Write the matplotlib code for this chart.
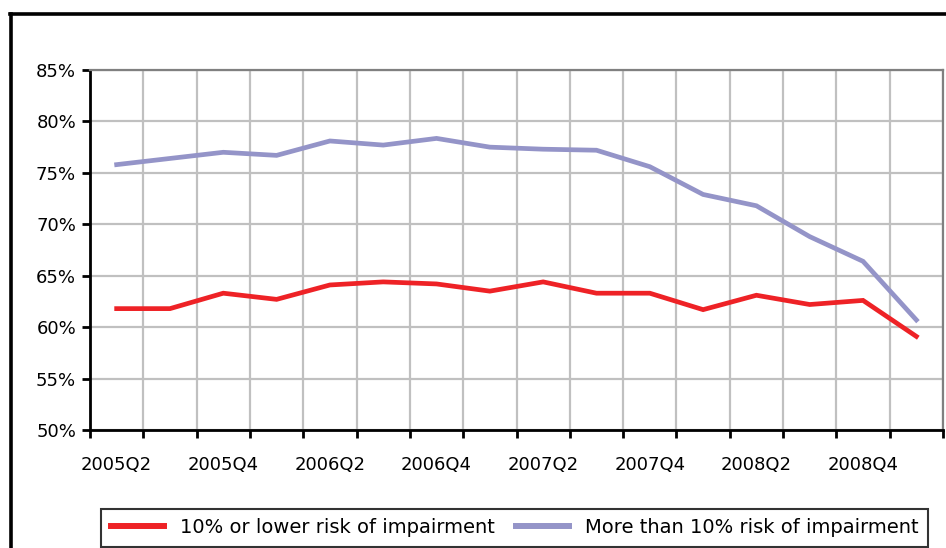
import matplotlib
matplotlib.use("Agg")
import matplotlib.pyplot as plt
from matplotlib.lines import Line2D
import numpy as np

quarters = ["2005Q2", "2005Q3", "2005Q4", "2006Q1", "2006Q2", "2006Q3", "2006Q4",
            "2007Q1", "2007Q2", "2007Q3", "2007Q4", "2008Q1", "2008Q2", "2008Q3",
            "2008Q4", "2009Q1"]
low_risk = [61.8, 61.8, 63.3, 62.7, 64.1, 64.4, 64.2, 63.5, 64.4, 63.3, 63.3,
            61.7, 63.1, 62.2, 62.6, 59.1]
high_risk = [75.8, 76.4, 77.0, 76.7, 78.1, 77.7, 78.35, 77.5, 77.3, 77.2, 75.6,
             72.9, 71.8, 68.8, 66.4, 60.7]
series_labels = ["10% or lower risk of impairment", "More than 10% risk of impairment"]
yticks = [50, 55, 60, 65, 70, 75, 80, 85]

plt.rcParams['font.family'] = ['DejaVu Sans']
fs = 13

fig = plt.figure(figsize=(9.46, 5.48), dpi=100)
ax = fig.add_axes([90/946, (548-430)/548, (943-90)/946, (430-70)/548])

x = np.arange(len(quarters))
ax.plot(x, low_risk, color="#ee2226", lw=3.4, solid_joinstyle="miter", label=series_labels[0], zorder=3)
ax.plot(x, high_risk, color="#9494c8", lw=3.4, solid_joinstyle="miter", label=series_labels[1], zorder=3)

ax.set_xlim(-0.5, len(quarters) - 0.5)
ax.set_ylim(50, 85)
ax.set_yticks(yticks)
ax.set_yticklabels([f"{v}%" for v in yticks], fontsize=fs)

bounds = np.arange(-0.5, len(quarters), 1.0)
ax.set_xticks(bounds)
ax.set_xticklabels([""] * len(bounds))
ax.set_xticks(x[::2], minor=True)
ax.set_xticklabels(quarters[::2], minor=True, fontsize=fs)
ax.tick_params(axis="x", which="minor", length=0, pad=19)
ax.tick_params(axis="x", which="major", length=6, width=2, direction="out", color="black")
ax.tick_params(axis="y", length=6, width=2, direction="out", color="black", pad=4)

ax.grid(True, which="major", color="#c0c0c0", lw=1.6)
ax.set_axisbelow(True)
for s in ["left", "bottom"]:
    ax.spines[s].set_color("black")
    ax.spines[s].set_linewidth(2)
for s in ["top", "right"]:
    ax.spines[s].set_color("#808080")
    ax.spines[s].set_linewidth(1.6)

leg = fig.legend(loc="lower left", bbox_to_anchor=(101/946, 1/548, 827/946, 45/548),
                 mode="expand", ncol=2, fontsize=14, frameon=True, fancybox=False,
                 handlelength=2.75, borderaxespad=0, handletextpad=0.8, borderpad=0.5)
leg.get_frame().set_edgecolor("black")
leg.get_frame().set_linewidth(1.5)
for h in leg.get_lines():
    h.set_linewidth(4.3)

# outer figure frame (top and left edges visible)
fig.add_artist(Line2D([10.5/946, 10.5/946], [0, 1 - 14/548], transform=fig.transFigure, color="black", lw=2.6))
fig.add_artist(Line2D([9.5/946, 1], [1 - 14/548, 1 - 14/548], transform=fig.transFigure, color="black", lw=2.6))

fig.savefig("out.png", dpi=100)
